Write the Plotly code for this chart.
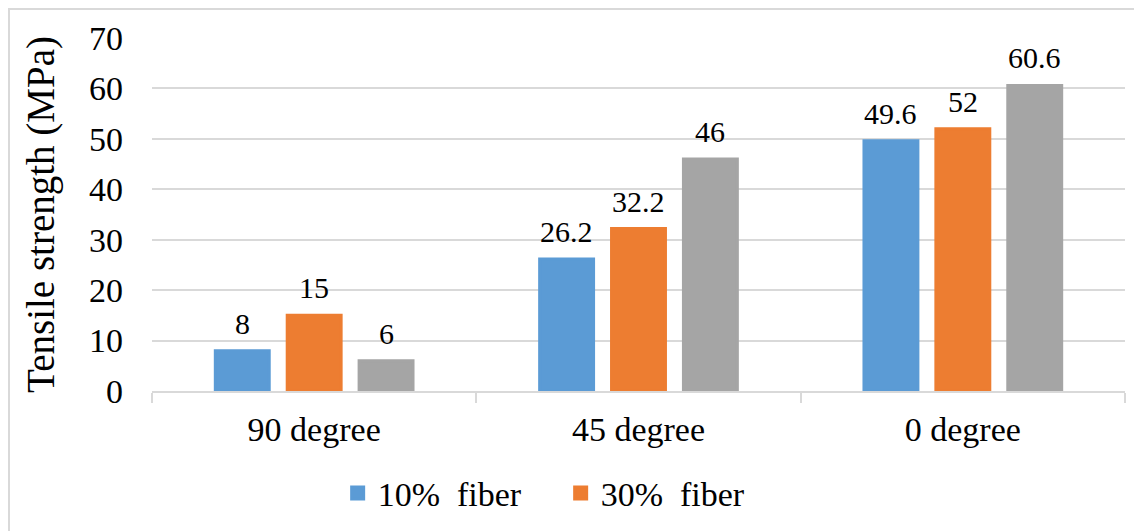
import plotly.graph_objects as go

# Tensile strength by fibre orientation
categories = ['90 degree', '45 degree', '0 degree']
fiber_10 = [8, 26.2, 49.6]
fiber_30 = [15, 32.2, 52]
third_series = [6, 46, 60.6]

# page body has an 8px margin, so the figure is drawn 8px smaller
W, H = 1134, 523
L, R, T, B = 144, 17, 30, 140
BARGAP = 0.335

FONT = 'Liberation Serif, Times New Roman, serif'

series = [
    (fiber_10, '10%\u00a0 fiber', '#5B9BD5', True),
    (fiber_30, '30%\u00a0 fiber', '#ED7D31', True),
    (third_series, '', '#A5A5A5', False),
]

pw = W - L - R
ph = H - T - B
slot = (1 - BARGAP) * pw / len(categories) / len(series)

fig = go.Figure()
for i, (vals, name, color, legend) in enumerate(series):
    fig.add_trace(go.Bar(
        x=categories, y=vals, name=name,
        marker=dict(color=color, line=dict(color=color, width=3)),
        showlegend=legend,
    ))
    # value labels sit a little higher than plotly's default outside text
    for cat, v in zip(categories, vals):
        fig.add_annotation(x=cat, y=v, text=f'{v:g}', showarrow=False,
                           xshift=(i - 1) * slot, yshift=9, yanchor='bottom',
                           font=dict(size=30, color='black'))

# outer chart border (top/left visible, right/bottom cut off)
fig.add_shape(type='rect', xref='paper', yref='paper',
              x0=-(L - 1) / pw, x1=1.2, y0=-1.0, y1=1 + (T - 1) / ph,
              line=dict(color='#D9D9D9', width=2), layer='below')

fig.update_layout(
    width=W, height=H,
    margin=dict(l=L, r=R, t=T, b=B, autoexpand=False),
    paper_bgcolor='white', plot_bgcolor='white',
    font=dict(family=FONT, size=34, color='black'),
    barmode='group', bargap=BARGAP, bargroupgap=0.25,
    showlegend=True,
    legend=dict(orientation='h', x=0.42, xanchor='center', y=-0.29, yanchor='middle',
                font=dict(size=34), traceorder='normal', entrywidth=178),
)
fig.update_xaxes(
    type='category', showgrid=False, showline=True, linecolor='#D9D9D9', linewidth=1.5,
    ticks='outside', tickson='boundaries', ticklen=10, tickcolor='#D9D9D9', tickwidth=1.5,
    tickfont=dict(size=34), ticklabelstandoff=7, automargin=False,
)
fig.update_yaxes(
    range=[0, 70], dtick=10, showgrid=True, gridcolor='#D9D9D9', gridwidth=1.5,
    zeroline=False, showline=False, tickfont=dict(size=34), ticklabelstandoff=28,
    title=dict(text='Tensile strength (MPa)', font=dict(size=39), standoff=22),
    automargin=False,
)

fig.write_html('out.html')
